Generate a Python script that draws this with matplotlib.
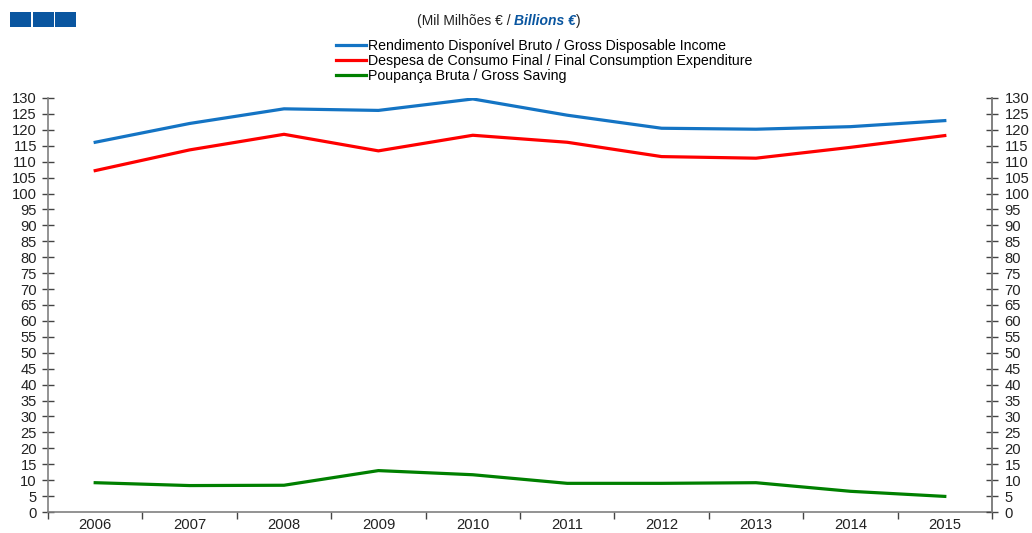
import numpy as np
import matplotlib
matplotlib.use('Agg')
import matplotlib.pyplot as plt
from matplotlib.patches import Rectangle

plt.rcParams['font.family'] = ['Liberation Sans', 'DejaVu Sans']
plt.rcParams['font.size'] = 10

# Annual values, thousand million euro
years = ['2006', '2007', '2008', '2009', '2010', '2011', '2012', '2013', '2014', '2015']
income = [116.1, 122.0, 126.6, 126.1, 129.7, 124.6, 120.5, 120.2, 121.0, 122.9]
consumption = [107.2, 113.7, 118.6, 113.4, 118.3, 116.1, 111.6, 111.1, 114.5, 118.2]
saving = [9.2, 8.3, 8.4, 13.0, 11.7, 9.0, 9.0, 9.2, 6.5, 4.9]

labels = ['Rendimento Disponível Bruto / Gross Disposable Income',
          'Despesa de Consumo Final / Final Consumption Expenditure',
          'Poupança Bruta / Gross Saving']
colors = ['#1474c4', '#ff0000', '#008000']
axis_grey = '#808080'
text_col = '#222222'
fs = 10.6

W, H = 1032, 533
fig = plt.figure(figsize=(W / 100, H / 100), dpi=100)
ax = fig.add_axes([48 / W, (H - 512) / H, (992 - 48) / W, (512 - 98) / H])

x = np.arange(len(years))
for vals, lab, col in zip([income, consumption, saving], labels, colors):
    ax.plot(x, vals, color=col, lw=2.3, label=lab, solid_joinstyle='round')

ax.set_xlim(-0.5, len(years) - 0.5)
ax.set_ylim(0, 130)
yt = np.arange(0, 131, 5)
ax.set_yticks(yt)
ax.set_yticklabels([str(v) for v in yt], fontsize=fs, color=text_col)
ax.tick_params(axis='y', direction='inout', length=8, width=1, color='#444444', pad=4)

ax.set_xticks(x)
ax.set_xticklabels(years, fontsize=fs, color=text_col)
ax.tick_params(axis='x', which='major', length=0, pad=4)
ax.set_xticks(np.arange(-0.5, len(years)), minor=True)
ax.tick_params(axis='x', which='minor', direction='out', length=5, width=1, color='#444444')

ax.spines['top'].set_visible(False)
for s in ['left', 'right', 'bottom']:
    ax.spines[s].set_color(axis_grey)
    ax.spines[s].set_linewidth(1.2)

ax2 = ax.twinx()
ax2.set_ylim(0, 130)
ax2.set_yticks(yt)
ax2.set_yticklabels([str(v) for v in yt], fontsize=fs, color=text_col)
ax2.tick_params(axis='y', direction='inout', length=8, width=1, color='#444444', pad=5)
for s in ['top', 'left', 'bottom']:
    ax2.spines[s].set_visible(False)
ax2.spines['right'].set_color(axis_grey)
ax2.spines['right'].set_linewidth(1.2)

# three blue blocks in the header
for i in range(3):
    fig.add_artist(Rectangle(((10 + i * 22.5) / W, (H - 27) / H), 21 / W, 15 / H,
                             transform=fig.transFigure, color='#0a56a0', lw=0))

# unit caption with the English part in bold italic blue
renderer = fig.canvas.get_renderer()
parts = [('(Mil Milhões € / ', dict(color=text_col)),
         ('Billions €', dict(color='#0a56a0', fontweight='bold', fontstyle='italic')),
         (')', dict(color=text_col))]
texts = [fig.text(0, (H - 21) / H, p, fontsize=10, va='center', **kw) for p, kw in parts]
widths = [t.get_window_extent(renderer).width for t in texts]
x0 = 499 - sum(widths) / 2
for t, w in zip(texts, widths):
    t.set_x(x0 / W)
    x0 += w

fig.legend(loc='upper left', bbox_to_anchor=(336 / W, (H - 39) / H), frameon=False,
           fontsize=10.2, handlelength=2.1, handletextpad=0.15, labelspacing=0.08,
           borderpad=0, borderaxespad=0)

fig.savefig('out.png', dpi=100)
